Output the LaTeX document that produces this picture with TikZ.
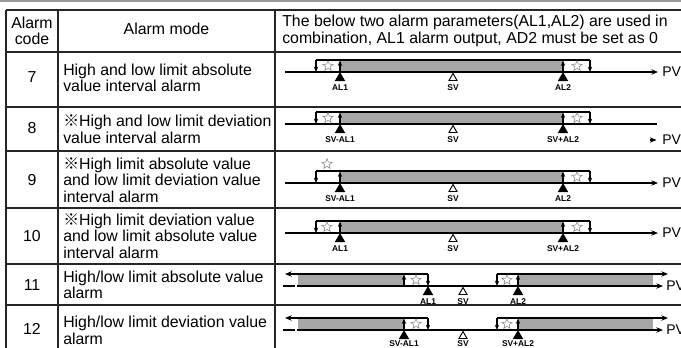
\documentclass[tikz,border=0pt]{standalone}
\usepackage{fontspec}
\setmainfont{Liberation Sans}
\newfontfamily\cjkf{Noto Sans CJK SC}
\usetikzlibrary{arrows.meta,shapes.geometric}
\definecolor{bandc}{HTML}{A7A7A9}
\definecolor{rulec}{HTML}{9A9A9A}
\newcommand\refm{{\cjkf ※}}
% interval rows (7-10): #1 axis y, #2 left label, #3 right label, #4 name prefix
\newcommand\bandrow[4]{%
  \fill[bandc] (340,#1-12) rectangle (563,#1);
  \draw[br] (316,#1-12) -- (590,#1-12);
  \draw[dn] (316,#1-12) -- (316,#1);
  \draw[dn] (590,#1-12) -- (590,#1);
  \draw[dn] (340,#1) -- (340,#1-11.5);
  \draw[dn] (563,#1) -- (563,#1-11.5);
  \node[starm] (#4r) at (577,#1-6) {};
  \node[ftri] (#4a) at (340,#1) {};
  \node[otri] (#4s) at (453,#1+1.5) {};
  \node[ftri] (#4b) at (563,#1) {};
  \node[lbl] (#4la) at (340,#1+16) {#2};
  \node[lbl] (#4ls) at (453,#1+16) {SV};
  \node[lbl] (#4lb) at (563,#1+16) {#3};
}
% outside rows (11-12): #1 axis y, #2 x of left triangle, #3 left label, #4 right label, #5 prefix, #6 label offset
\newcommand\outrow[6]{%
  \fill[bandc] (298,#1-12) rectangle (404,#1);
  \fill[bandc] (518,#1-12) rectangle (653,#1);
  \draw[br,{Stealth[length=5pt,width=4pt]}-] (285,#1-12) -- (428,#1-12);
  \draw[dn] (428,#1-12) -- (428,#1);
  \draw[dn] (404,#1) -- (404,#1-11.5);
  \draw[br,-{Stealth[length=5pt,width=4pt]}] (497,#1-12) -- (668,#1-12);
  \draw[dn] (497,#1-12) -- (497,#1);
  \draw[dn] (518,#1) -- (518,#1-11.5);
  \node[starm] (#5l) at (416,#1-6) {};
  \node[starm] (#5r) at (507,#1-6) {};
  \draw[br,dash pattern=on 9pt off 2pt] (283,#1) -- (298,#1);
  \draw[ax] (297,#1) -- (663,#1);
  \node[pv] (#5pv) at (666,#1) {PV};
  \node[ftri] (#5a) at (#2,#1) {};
  \node[otri] (#5s) at (463,#1+1.5) {};
  \node[ftri] (#5b) at (518,#1) {};
  \node[lbl] (#5la) at (#2,#1+#6) {#3};
  \node[lbl] (#5ls) at (463,#1+#6) {SV};
  \node[lbl] (#5lb) at (518,#1+#6) {#4};
}
\begin{document}
\begin{tikzpicture}[x=0.75pt,y=-0.75pt,
  tbl/.style={line width=1.1pt,draw=black!85},
  br/.style={line width=0.9pt},
  dn/.style={br,-{Stealth[length=4pt,width=3.2pt]}},
  ax/.style={line width=0.9pt,-{Stealth[length=5pt,width=4pt]}},
  ftri/.style={regular polygon,regular polygon sides=3,fill=black,inner sep=0pt,outer sep=0pt,minimum size=9pt,anchor=corner 1},
  otri/.style={regular polygon,regular polygon sides=3,draw=black,line width=0.7pt,fill=white,inner sep=0pt,outer sep=0pt,minimum size=7pt,anchor=corner 1},
  starm/.style={star,star points=5,star point ratio=2.3,draw=black!45,line width=0.45pt,inner sep=0pt,minimum size=8pt},
  lbl/.style={font=\fontsize{6.3}{7}\selectfont\bfseries,inner sep=0pt},
  pv/.style={font=\fontsize{10.5}{11}\selectfont,anchor=west,inner sep=0pt},
  body/.style={font=\fontsize{11.9}{12.4}\selectfont,align=left,anchor=west,inner sep=0pt},
  num/.style={font=\fontsize{11.9}{12.4}\selectfont,align=center,inner sep=0pt}]
\useasboundingbox (0,0) rectangle (681,347);
\clip (0,0) rectangle (681,347);
% top rule
\draw[rulec,line width=1.2pt] (0,1) -- (681,1);
% table grid
\draw[tbl] (6,10) -- (690,10);
\foreach \yy in {52,107,151,208,264,305} \draw[tbl] (6,\yy) -- (690,\yy);
\foreach \xx in {6,58,275} \draw[tbl] (\xx,10) -- (\xx,360);
% header
\node[num] (hcode) at (32,31) {Alarm\\code};
\node[num] (hmode) at (166.5,29) {Alarm mode};
\node[body] (hdesc) at (282,31) {The below two alarm parameters(AL1,AL2) are used in\\combination, AL1 alarm output, AD2 must be set as 0};
% codes
\node[num] (c7) at (32,77) {7};
\node[num] (c8) at (32,128) {8};
\node[num] (c9) at (32,180) {9};
\node[num] (c10) at (32,236) {10};
\node[num] (c11) at (32,285) {11};
\node[num] (c12) at (32,329) {12};
% modes
\node[body] (m7) at (63,78) {High and low limit absolute\\value interval alarm};
\node[body] (m8) at (63,129) {\refm High and low limit deviation\\value interval alarm};
\node[body] (m9) at (63,180) {\refm High limit absolute value\\and low limit deviation value\\interval alarm};
\node[body] (m10) at (63,236) {\refm High limit deviation value\\and low limit absolute value\\interval alarm};
\node[body] (m11) at (63,285) {High/low limit absolute value\\alarm};
\node[body] (m12) at (63,330.5) {High/low limit deviation value\\alarm};
% row 7
\bandrow{72}{AL1}{AL2}{r7}
\node[starm] (r7l) at (328,66) {};
\draw[ax] (285,72) -- (658,72);
\node[pv] (pv7) at (662,72) {PV};
% row 8
\bandrow{124}{SV-AL1}{SV+AL2}{r8}
\node[starm] (r8l) at (328,118) {};
\draw[br] (285,124) -- (657,124);
\coordinate (pa8) at (650,140);
\coordinate (pb8) at (656.5,140);
\draw[ax] (pa8) -- (pb8);
\node[pv] (pv8) at (662,140) {PV};
% row 9
\bandrow{183}{SV-AL1}{AL2}{r9}
\node[starm] (r9l) at (327,164) {};
\draw[ax] (285,183) -- (658,183);
\node[pv] (pv9) at (662,183) {PV};
% row 10
\bandrow{233}{AL1}{SV+AL2}{r10}
\node[starm] (r10l) at (327,227) {};
\draw[ax] (285,233) -- (658,233);
\node[pv] (pv10) at (662,233) {PV};
% rows 11, 12
\outrow{286}{428}{AL1}{AL2}{r11}{16}
\outrow{330}{404}{SV-AL1}{SV+AL2}{r12}{13.5}
\end{tikzpicture}
\end{document}
